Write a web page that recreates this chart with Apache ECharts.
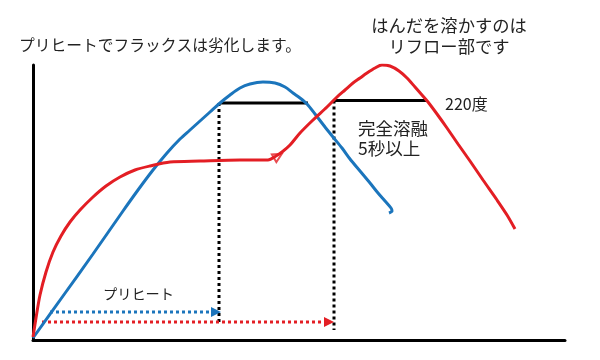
<!DOCTYPE html>
<html><head><meta charset="utf-8">
<script src="https://cdn.jsdelivr.net/npm/echarts@6/dist/echarts.min.js"></script>
<style>html,body{margin:0;padding:0;background:#fff}#c{width:600px;height:360px}</style>
</head><body><div id="c"></div>
<script>
// Curves: [time, temperature] in arbitrary diagram units
var blueCurve = [[0,2],[30,44],[60,86],[90,129],[105,150],[120,170],[134,187],[147,201],[157,210],[167,219],[177,228],[187,237],[197,245],[207,252],[217,256],[230,258],[242,257],[252,253],[260,247],[267,242],[274,236],[282,226],[292,213],[300,203],[309,192],[317,181],[327,169],[337,157],[345,147],[352,139],[358,132],[359,129],[356,127]];
var redCurve = [[0,3],[3,22],[7,45],[13,68],[20,88],[28,104],[37,118],[47,130],[60,143],[73,154],[87,163],[102,170],[117,174],[137,178],[167,179],[207,180],[235,180],[243,184],[249,188],[257,195],[267,207],[280,220],[294,233],[304,243],[312,250],[320,257],[327,262],[334,267],[342,272],[349,275],[357,274],[366,269],[374,262],[382,253],[389,245],[395,238],[404,226],[414,212],[425,196],[437,179],[450,160],[464,140],[474,125],[482,111]];
var blueLevel = [[187,237],[275,237]];
var redLevel = [[302,239.5],[394,239.5]];
var blueDrop = [[186,237],[186,15]];
var redDrop = [[301,239.5],[301,10]];
var blueArrow = [[17,28],[183,28]];
var redArrow = [[9,18],[296,18]];
var redMark = [[245,184]];
var titleLeft = 'プリヒートでフラックスは劣化します。';
var titleRight = ['はんだを溶かすのは', 'リフロー部です'];
var levelLabel = '220度';
var meltLabel = ['完全溶融', '5秒以上'];
var preheatLabel = 'プリヒート';

var BLUE = '#1b75bc', RED = '#e31e24', FONT = '"Noto Sans CJK JP", sans-serif';
function txt(t, x, y, size, align) {
  return {type:'text', x:x, y:y, style:{text:t, fill:'#222', font:size+'px '+FONT, align:align||'left', verticalAlign:'middle'}};
}
function arrowData(arr) {
  return [arr[0], {value: arr[1], symbol:'triangle', symbolSize:[10,10], symbolRotate:-90}];
}
var chart = echarts.init(document.getElementById('c'));
chart.setOption({
  animation:false,
  grid:{left:33, right:35, top:65, bottom:20},
  xAxis:{type:'value', min:0, max:532, axisLine:{onZero:false, lineStyle:{color:'#000', width:3}}, axisTick:{show:false}, axisLabel:{show:false}, splitLine:{show:false}},
  yAxis:{type:'value', min:0, max:275, axisLine:{show:true, onZero:false, lineStyle:{color:'#000', width:3}}, axisTick:{show:false}, axisLabel:{show:false}, splitLine:{show:false}},
  series:[
    {type:'line', data:blueLevel, symbol:'none', lineStyle:{color:'#000', width:3}},
    {type:'line', data:redLevel, symbol:'none', lineStyle:{color:'#000', width:3}},
    {type:'line', data:blueDrop, symbol:'none', lineStyle:{color:'#000', width:3, type:'dotted'}},
    {type:'line', data:redDrop, symbol:'none', lineStyle:{color:'#000', width:3, type:'dotted'}},
    {type:'line', data:arrowData(blueArrow), symbol:'none', showSymbol:true, itemStyle:{color:BLUE}, lineStyle:{color:BLUE, width:3, type:'dotted'}},
    {type:'line', data:arrowData(redArrow), symbol:'none', showSymbol:true, itemStyle:{color:RED}, lineStyle:{color:RED, width:3, type:'dotted'}},
    {type:'line', data:blueCurve, symbol:'none', smooth:0.3, lineStyle:{color:BLUE, width:3}},
    {type:'line', data:redCurve, symbol:'none', smooth:0.3, lineStyle:{color:RED, width:3}},
    {type:'scatter', data:redMark, symbol:'emptyTriangle', symbolSize:9, symbolRotate:-60, itemStyle:{color:RED, borderWidth:2}}
  ],
  graphic:[
    txt(titleLeft, 19, 45, 15.75),
    txt(titleRight[0], 449, 25, 17.3, 'center'),
    txt(titleRight[1], 449, 46, 17.3, 'center'),
    txt(levelLabel, 445, 104, 16),
    txt(meltLabel[0], 358, 128, 17.5),
    txt(meltLabel[1], 358, 148, 17.5),
    txt(preheatLabel, 103, 294, 14.2)
  ]
});
</script></body></html>
